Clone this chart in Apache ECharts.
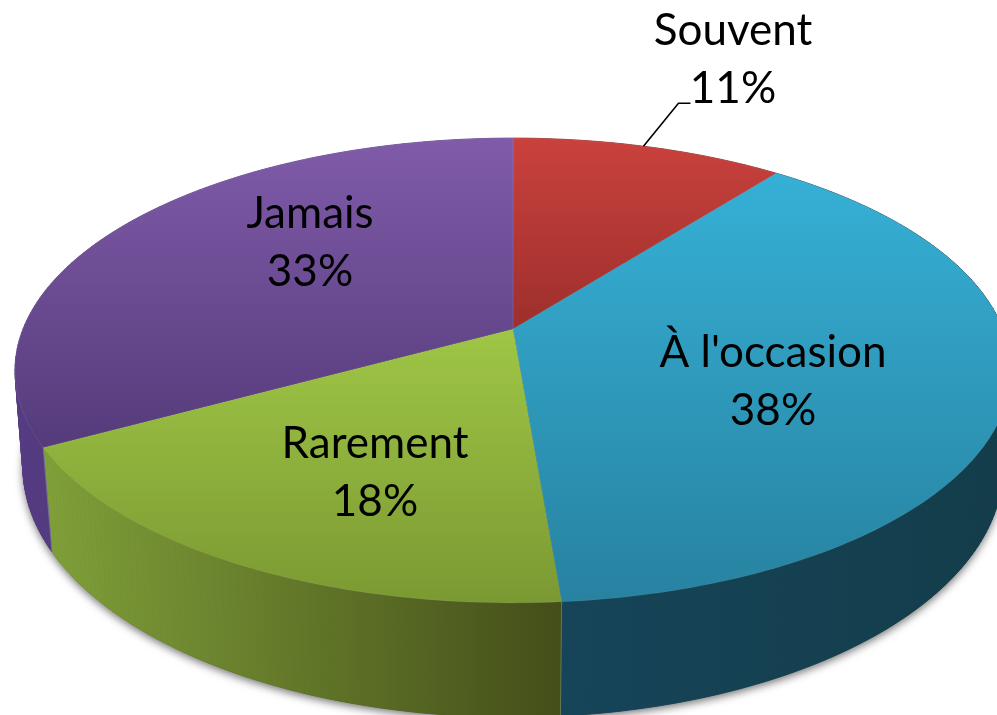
<!DOCTYPE html>
<html>
<head>
<meta charset="utf-8">
<style>html,body{margin:0;padding:0;background:#fff}#c{width:997px;height:715px}</style>
<script src="https://cdn.jsdelivr.net/npm/echarts@6/dist/echarts.min.js"></script>
</head>
<body>
<div id="c"></div>
<script>
// Data
const categories = ['Souvent', "À l'occasion", 'Rarement', 'Jamais'];
const shares = [10.5, 38.2, 18.3, 33];

// Styles
const topColors = [['#ca413d', '#9d2f2c'], ['#36b0d6', '#2782a0'], ['#9fc646', '#7b9932'], ['#805ba9', '#553b7b']];
const sideColors = [['#7a2523', '#7a2523'], ['#164459', '#133d4a'], ['#80a039', '#444e19'], ['#553b82', '#50377a']];
const labelPos = [[733, 60], [773, 382], [375, 473], [310, 243]];

// Projection of the pie's top and bottom discs
const topDisc = { x0: 513, y0: 329, a: 490, b: 225, k: 0.1785 };
const baseDisc = { x0: 513, y0: 424.5, a: 483, b: 243, k: 0.17 };
function project(d, f) {
  const t = f * 2 * Math.PI, u = Math.sin(t), v = -Math.cos(t), w = 1 - d.k * v;
  return [d.x0 + d.a * u / w, d.y0 + d.b * v / w];
}
function arc(d, f0, f1) {
  const n = Math.max(2, Math.ceil((f1 - f0) * 360)), pts = [];
  for (let i = 0; i <= n; i++) pts.push(project(d, f0 + (f1 - f0) * i / n));
  return pts;
}
const total = shares.reduce((a, b) => a + b, 0);
const stops = c => [{ offset: 0, color: c[0] }, { offset: 1, color: c[1] }];

function renderItem(params, api) {
  const i = params.dataIndex;
  let before = 0;
  for (let j = 0; j < i; j++) before += shares[j];
  const f0 = before / total, f1 = (before + api.value(0)) / total;
  const children = [];
  if (i === 0) {
    children.push({
      type: 'polygon', z2: 0, shape: { points: arc(baseDisc, 0, 1) },
      style: { fill: '#333', shadowColor: 'rgba(0,0,0,0.55)', shadowBlur: 9, shadowOffsetX: 0, shadowOffsetY: 3 }
    });
  }
  // Wall of the slice: one quad per step, so the outline follows the tangent between the two discs
  const upper = arc(topDisc, f0, f1), lower = arc(baseDisc, f0, f1);
  const xs = upper.concat(lower).map(p => p[0]);
  const sideFill = new echarts.graphic.LinearGradient(
    Math.min.apply(null, xs), 0, Math.max.apply(null, xs), 0, stops(sideColors[i]), true);
  for (let s = 0; s + 1 < upper.length; s++) {
    children.push({
      type: 'polygon', z2: 1,
      shape: { points: [upper[s], upper[s + 1], lower[s + 1], lower[s]] },
      style: { fill: sideFill, stroke: sideFill, lineWidth: 0.8 }
    });
  }
  children.push({
    type: 'polyline', z2: 1.5,
    shape: { points: [upper[0], lower[0]] },
    style: { stroke: 'rgba(205,230,225,0.28)', lineWidth: 1, fill: null }
  });
  children.push({
    type: 'polygon', z2: 2,
    shape: { points: [[topDisc.x0, topDisc.y0]].concat(upper) },
    style: {
      fill: new echarts.graphic.LinearGradient(0, 0, 0, 1, stops(topColors[i])),
      stroke: 'rgba(255,255,255,0.08)', lineWidth: 1
    }
  });
  if (i === 0) {
    const p = project(topDisc, f0 + 0.48 * (f1 - f0));
    children.push({
      type: 'polyline', z2: 3,
      shape: { points: [p, [p[0] + 35, p[1] - 43], [p[0] + 47, p[1] - 43]] },
      style: { stroke: '#000', lineWidth: 1.6, fill: null }
    });
  }
  children.push({
    type: 'text', z2: 4, x: labelPos[i][0], y: labelPos[i][1],
    style: {
      text: categories[i] + '\n' + Math.round(api.value(0)) + '%',
      fontFamily: 'Lato', fontSize: 44, lineHeight: 58, fill: '#000',
      align: 'center', verticalAlign: 'middle'
    }
  });
  return { type: 'group', children };
}

const chart = echarts.init(document.getElementById('c'), null, { renderer: 'canvas' });
chart.setOption({
  backgroundColor: '#fff',
  animation: false,
  series: [{
    type: 'custom', coordinateSystem: 'none', renderItem,
    data: shares.map((v, i) => ({ name: categories[i], value: [v] }))
  }]
});
</script>
</body>
</html>
